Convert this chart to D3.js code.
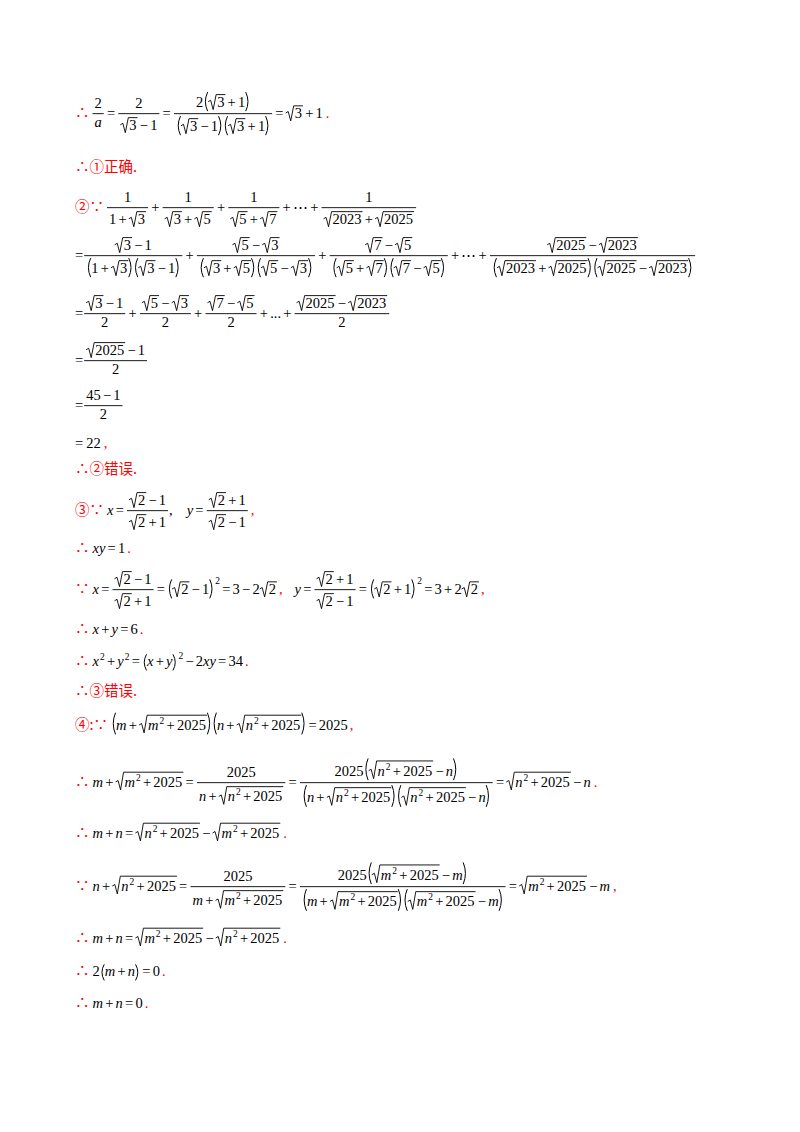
<!DOCTYPE html>
<html><head><meta charset="utf-8">
<script src="https://cdn.jsdelivr.net/npm/d3@7"></script>
<style>body{margin:0;background:#fff}</style>
</head><body><div id="c"></div>
<script>
const fs = 14.5;
const serif = '"Liberation Serif", "Times New Roman", "DejaVu Serif", serif';
const cjk = '"Noto Sans CJK SC", sans-serif';
const RED = '#ff0000';
const ctx = document.createElement('canvas').getContext('2d');

function T(s, o = {}) {
  const sz = o.sz || fs, fam = o.f || serif;
  ctx.font = `${o.i ? 'italic ' : ''}${sz}px ${fam}`;
  const w = ctx.measureText(s).width;
  return { w, asc: sz * 0.7, desc: sz * 0.2, draw(g, x, y) {
    g.append('text').attr('x', x).attr('y', y).style('font-family', fam).style('font-size', sz + 'px')
      .style('font-style', o.i ? 'italic' : 'normal').attr('fill', o.c || '#000').text(s);
  }};
}
function G(w) { return { w, asc: 0, desc: 0, draw() {} }; }
function R(...ch) {
  return { w: d3.sum(ch, c => c.w), asc: d3.max(ch, c => c.asc), desc: d3.max(ch, c => c.desc),
    draw(g, x, y) { let cx = x; ch.forEach(c => { c.draw(g, cx, y); cx += c.w; }); } };
}
function F(a, b) {
  const ax = fs * 0.3, gap = 3, w = Math.max(a.w, b.w) + 4;
  return { w: w + 2, asc: ax + gap + a.asc + a.desc, desc: gap + b.asc + b.desc - ax,
    draw(g, x, y) {
      g.append('line').attr('x1', x + 1).attr('x2', x + 1 + w).attr('y1', y - ax).attr('y2', y - ax).attr('stroke', '#000').attr('stroke-width', 0.9);
      a.draw(g, x + 1 + (w - a.w) / 2, y - ax - gap - a.desc);
      b.draw(g, x + 1 + (w - b.w) / 2, y - ax + gap + b.asc);
    } };
}
function S(a) {
  const lw = 9;
  return { w: lw + a.w + 1, asc: a.asc + 3, desc: a.desc,
    draw(g, x, y) {
      const top = y - a.asc - 2;
      g.append('path').attr('d', `M${x},${y - 5} L${x + 2.5},${y - 6.5} L${x + 5},${y + a.desc} L${x + lw - 1},${top} L${x + lw + a.w + 1},${top}`)
        .attr('fill', 'none').attr('stroke', '#000').attr('stroke-width', 0.9);
      a.draw(g, x + lw, y);
    } };
}
function P(a) {
  const pw = 4.5;
  return { w: a.w + 2 * pw + 1, asc: a.asc + 1, desc: a.desc + 1,
    draw(g, x, y) {
      const t = y - a.asc - 1.5, b = y + a.desc + 1.5, m = (t + b) / 2;
      const p = (x0, x1) => g.append('path').attr('d', `M${x1},${t} Q${x0},${m} ${x1},${b}`).attr('fill', 'none').attr('stroke', '#000').attr('stroke-width', 1);
      p(x, x + pw);
      a.draw(g, x + pw + 0.5, y);
      const xr = x + pw + 1 + a.w;
      p(xr + pw, xr);
    } };
}
function Sup(b, e) {
  const raise = Math.max(b.asc - 4, fs * 0.4);
  return { w: b.w + e.w + 1, asc: Math.max(b.asc, raise + e.asc), desc: b.desc,
    draw(g, x, y) { b.draw(g, x, y); e.draw(g, x + b.w + 1, y - raise); } };
}
const n = s => T(s);
const v = s => T(s, { i: 1 });
const Z = s => T(s, { c: RED, f: cjk });
const Zs = s => T(s, { c: RED });
const op = s => R(G(2.2), n(s), G(2.2));
const r = k => S(n(String(k)));
const two = () => T('2', { sz: 9.5 });
function X(...parts) {
  const out = [];
  parts.forEach(p => {
    if (typeof p !== 'string') { out.push(p); return; }
    p.split(' ').filter(Boolean).forEach(tk => {
      if (tk[0] === '√') out.push(r(tk.slice(1)));
      else if ('+−='.includes(tk)) out.push(op(tk));
      else if (/^[a-z]+$/.test(tk)) out.push(v(tk));
      else out.push(n(tk));
    });
  });
  return R(...out);
}
const sq = c => R(Sup(v(c), two()), op('+'), n('2025'));
const M2 = () => S(sq('m'));
const N2 = () => S(sq('n'));
const so = Z('∴'), be = Z('∵');

// ---- content lines (baseline y) ----
const lineY = [118, 172, 212, 260, 318, 365, 410, 448, 474, 515, 553, 594, 634, 666, 696, 730, 787, 838, 891, 943, 976, 1008];
const lines = [
  R(so, G(2), F(n('2'), v('a')), op('='), F(n('2'), X('√3 − 1')), op('='),
    F(R(n('2'), P(X('√3 + 1'))), R(P(X('√3 − 1')), P(X('√3 + 1')))), op('='), X('√3 + 1'), G(3), Zs('.')),
  R(so, Z('①正确.')),
  R(Z('②∵'), G(2), F(n('1'), X('1 + √3')), op('+'), F(n('1'), X('√3 + √5')), op('+'), F(n('1'), X('√5 + √7')),
    op('+'), n('⋯'), op('+'), F(n('1'), X('√2023 + √2025'))),
  R(n('='), F(X('√3 − 1'), R(P(X('1 + √3')), P(X('√3 − 1')))), op('+'),
    F(X('√5 − √3'), R(P(X('√3 + √5')), P(X('√5 − √3')))), op('+'),
    F(X('√7 − √5'), R(P(X('√5 + √7')), P(X('√7 − √5')))), op('+'), n('⋯'), op('+'),
    F(X('√2025 − √2023'), R(P(X('√2023 + √2025')), P(X('√2025 − √2023'))))),
  R(n('='), F(X('√3 − 1'), n('2')), op('+'), F(X('√5 − √3'), n('2')), op('+'), F(X('√7 − √5'), n('2')),
    op('+'), n('...'), op('+'), F(X('√2025 − √2023'), n('2'))),
  R(n('='), F(X('√2025 − 1'), n('2'))),
  R(n('='), F(X('45 − 1'), n('2'))),
  R(n('='), G(3), n('22'), G(3), Zs(',')),
  R(so, Z('②错误.')),
  R(Z('③∵'), G(3), v('x'), op('='), F(X('√2 − 1'), X('√2 + 1')), n(','), G(14), v('y'), op('='), F(X('√2 + 1'), X('√2 − 1')), G(2), Zs(',')),
  R(so, G(3), v('xy'), op('='), n('1'), G(2), Zs('.')),
  R(be, G(3), v('x'), op('='), F(X('√2 − 1'), X('√2 + 1')), op('='), Sup(P(X('√2 − 1')), two()), op('='), X('3 − 2 √2'), G(2), Zs(','), G(12),
    v('y'), op('='), F(X('√2 + 1'), X('√2 − 1')), op('='), Sup(P(X('√2 + 1')), two()), op('='), X('3 + 2 √2'), G(2), Zs(',')),
  R(so, G(3), X('x + y = 6'), G(2), Zs('.')),
  R(so, G(3), Sup(v('x'), two()), op('+'), Sup(v('y'), two()), op('='), Sup(P(X('x + y')), two()), op('−'), n('2'), v('xy'), op('='), n('34'), G(2), Zs('.')),
  R(so, Z('③错误.')),
  R(Z('④:'), be, G(3), P(R(v('m'), op('+'), M2())), P(R(v('n'), op('+'), N2())), op('='), n('2025'), G(2), Zs(',')),
  R(so, G(3), v('m'), op('+'), M2(), op('='), F(n('2025'), R(v('n'), op('+'), N2())), op('='),
    F(R(n('2025'), P(R(N2(), op('−'), v('n')))), R(P(R(v('n'), op('+'), N2())), P(R(N2(), op('−'), v('n'))))), op('='),
    N2(), op('−'), v('n'), G(3), Zs('.')),
  R(so, G(3), X('m + n ='), N2(), op('−'), M2(), G(3), Zs('.')),
  R(be, G(3), v('n'), op('+'), N2(), op('='), F(n('2025'), R(v('m'), op('+'), M2())), op('='),
    F(R(n('2025'), P(R(M2(), op('−'), v('m')))), R(P(R(v('m'), op('+'), M2())), P(R(M2(), op('−'), v('m'))))), op('='),
    M2(), op('−'), v('m'), G(3), Zs(',')),
  R(so, G(3), X('m + n ='), M2(), op('−'), N2(), G(3), Zs('.')),
  R(so, G(3), n('2'), P(X('m + n')), op('='), n('0'), G(2), Zs('.')),
  R(so, G(3), X('m + n = 0'), G(2), Zs('.'))
];

const svg = d3.select('#c').append('svg').attr('width', 800).attr('height', 1132);
svg.append('rect').attr('width', 800).attr('height', 1132).attr('fill', '#fff');
const yScale = d3.scaleLinear().domain([0, 1132]).range([0, 1132]);
lines.forEach((ln, i) => ln.draw(svg.append('g'), 75, yScale(lineY[i])));
</script></body></html>
